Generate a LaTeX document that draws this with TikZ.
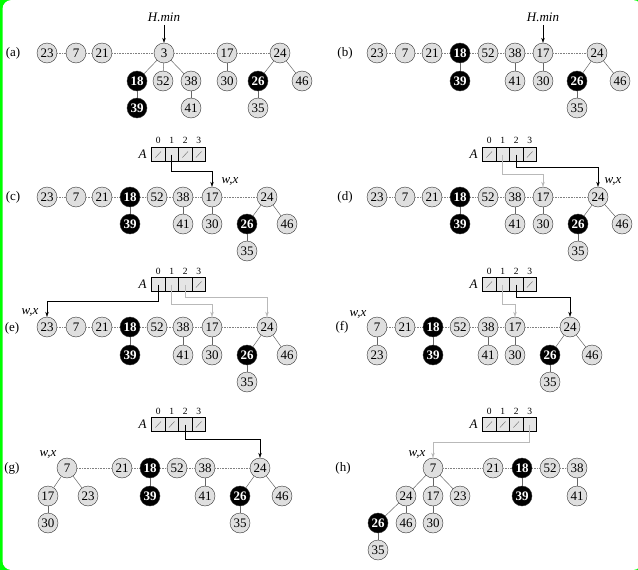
\documentclass[tikz,border=0pt]{standalone}
\usepackage{fontspec}
\setmainfont{Liberation Serif}
\usetikzlibrary{matrix,positioning,arrows.meta}

\begin{document}
\begin{tikzpicture}[x=1pt, y=-1pt, font=\fontsize{13}{13}\selectfont,
    hnode/.style={circle, draw=black!80, fill=gray!25, minimum size=20pt, inner sep=0pt},
    hmark/.style={hnode, fill=black, text=white, font=\fontsize{13}{13}\selectfont\bfseries},
    tree/.style={draw=black!60, line width=0.5pt},
    rootlink/.style={draw=gray, densely dotted, line width=0.6pt},
    ptr/.style={-{Stealth[length=5pt,width=3.5pt]}, line width=0.5pt, draw=black},
    gptr/.style={ptr, draw=gray!55},
    nilcell/.style={path picture={\draw[black!60] ([shift={(4pt,4pt)}]path picture bounding box.south west) -- ([shift={(-4pt,-4pt)}]path picture bounding box.north east);}},
    array/.style={matrix of nodes, anchor=south west, inner sep=0pt, nodes={draw, fill=gray!20, minimum width=13.5pt, minimum height=14pt, inner sep=0pt}, column sep=-\pgflinewidth, row sep=1pt, nodes in empty cells,
    row 1/.style={nodes={draw=none, fill=none, minimum height=11pt, font=\fontsize{9.5}{9.5}\selectfont}}
    }]

    \useasboundingbox (0,0) rectangle (638,570);
    \fill[green] (0,0) rectangle (638,570);
    \fill[white, rounded corners=9pt] (2.5,0) rectangle (642,570);

    % (a)
    \node (la) at (13,53) {(a)};
    \foreach \k/\x in {23/47,7/76,21/102,3/164,17/227,24/280}
      \node[hnode] (a\k) at (\x,53) {\k};
    \foreach \k/\x/\y in {52/163/81,38/191/81,30/227/81,46/302/81,41/191/108,35/258/108}
      \node[hnode] (a\k) at (\x,\y) {\k};
    \foreach \k/\x/\y in {18/137/81,26/258/81,39/137/108}
      \node[hmark] (a\k) at (\x,\y) {\k};
    \foreach \u/\v in {23/7,7/21,21/3,3/17,17/24}
      \draw[rootlink] (a\u) -- (a\v);
    \foreach \u/\v in {3/18,3/52,3/38,38/41,18/39,17/30,24/26,24/46,26/35}
      \draw[tree] (a\u) -- (a\v);
    \node (ahmin) at (164,17) {\itshape H.min};
    \draw[ptr] (ahmin) -- (a3);

    % (b)
    \node (lb) at (345,53) {(b)};
    \foreach \k/\x in {23/377,7/405,21/432,52/488,38/515,17/543,24/597}
      \node[hnode] (b\k) at (\x,53) {\k};
    \foreach \k/\x/\y in {41/515/81,30/543/81,46/620/81,35/577/108}
      \node[hnode] (b\k) at (\x,\y) {\k};
    \foreach \k/\x/\y in {18/460/53,39/460/81,26/577/81}
      \node[hmark] (b\k) at (\x,\y) {\k};
    \foreach \u/\v in {23/7,7/21,21/18,18/52,52/38,38/17,17/24}
      \draw[rootlink] (b\u) -- (b\v);
    \foreach \u/\v in {18/39,38/41,17/30,24/26,24/46,26/35}
      \draw[tree] (b\u) -- (b\v);
    \node (bhmin) at (543,17) {\itshape H.min};
    \draw[ptr] (bhmin) -- (b17);

    % (c)
    \node (lc) at (13,197) {(c)};
    \foreach \k/\x in {23/47,7/76,21/102,52/157,38/183,17/212,24/267}
      \node[hnode] (c\k) at (\x,197) {\k};
    \foreach \k/\x/\y in {41/183/224,30/212/224,46/287/224,35/247/251}
      \node[hnode] (c\k) at (\x,\y) {\k};
    \foreach \k/\x/\y in {18/130/197,39/130/224,26/247/224}
      \node[hmark] (c\k) at (\x,\y) {\k};
    \foreach \u/\v in {23/7,7/21,21/18,18/52,52/38,38/17,17/24}
      \draw[rootlink] (c\u) -- (c\v);
    \foreach \u/\v in {18/39,38/41,17/30,24/26,24/46,26/35}
      \draw[tree] (c\u) -- (c\v);
    \matrix[array] (Ac) at (151,162) {
    0 & 1 & 2 & 3\\
    |[nilcell]| & & |[nilcell]| & |[nilcell]|\\};
    \node[left=1pt of Ac-2-1] (Aclab) {\itshape A};
    \draw[ptr] (Ac-2-2.center) -- ++(0,17) -| (c17);
    \node (cwx) at (230,182) {\itshape w,x};

    % (d)
    \node (ld) at (345,197) {(d)};
    \foreach \k/\x in {23/377,7/405,21/432,52/488,38/515,17/543,24/598}
      \node[hnode] (d\k) at (\x,197) {\k};
    \foreach \k/\x/\y in {41/515/224,30/543/224,46/622/224,35/578/251}
      \node[hnode] (d\k) at (\x,\y) {\k};
    \foreach \k/\x/\y in {18/460/197,39/460/224,26/578/224}
      \node[hmark] (d\k) at (\x,\y) {\k};
    \foreach \u/\v in {23/7,7/21,21/18,18/52,52/38,38/17,17/24}
      \draw[rootlink] (d\u) -- (d\v);
    \foreach \u/\v in {18/39,38/41,17/30,24/26,24/46,26/35}
      \draw[tree] (d\u) -- (d\v);
    \matrix[array] (Ad) at (482,162) {
    0 & 1 & 2 & 3\\
    |[nilcell]| & & & |[nilcell]|\\};
    \node[left=1pt of Ad-2-1] (Adlab) {\itshape A};
    \draw[gptr] (Ad-2-2.center) -- ++(0,20) -| (d17);
    \draw[ptr] (Ad-2-3.center) -- ++(0,13) -| (d24);
    \node (dwx) at (613,182) {\itshape w,x};

    % (e)
    \node (le) at (12,328) {(e)};
    \foreach \k/\x in {23/47,7/76,21/102,52/157,38/183,17/212,24/267}
      \node[hnode] (e\k) at (\x,327) {\k};
    \foreach \k/\x/\y in {41/183/355,30/212/355,46/287/355,35/247/382}
      \node[hnode] (e\k) at (\x,\y) {\k};
    \foreach \k/\x/\y in {18/130/327,39/130/355,26/247/355}
      \node[hmark] (e\k) at (\x,\y) {\k};
    \foreach \u/\v in {23/7,7/21,21/18,18/52,52/38,38/17,17/24}
      \draw[rootlink] (e\u) -- (e\v);
    \foreach \u/\v in {18/39,38/41,17/30,24/26,24/46,26/35}
      \draw[tree] (e\u) -- (e\v);
    \matrix[array] (Ae) at (151,292) {
    0 & 1 & 2 & 3\\
    & & & |[nilcell]|\\};
    \node[left=1pt of Ae-2-1] (Aelab) {\itshape A};
    \draw[ptr] (Ae-2-1.center) -- ++(0,17) -| (e23);
    \draw[gptr] (Ae-2-2.center) -- ++(0,20) -| (e17);
    \draw[gptr] (Ae-2-3.center) -- ++(0,13) -| (e24);
    \node (ewx) at (30,313) {\itshape w,x};

    % (f)
    \node (lf) at (342,327) {(f)};
    \foreach \k/\x in {7/377,21/405,52/460,38/488,17/515,24/570}
      \node[hnode] (f\k) at (\x,327) {\k};
    \foreach \k/\x/\y in {23/377/355,41/488/355,30/515/355,46/592/355,35/550/382}
      \node[hnode] (f\k) at (\x,\y) {\k};
    \foreach \k/\x/\y in {18/433/327,39/433/355,26/550/355}
      \node[hmark] (f\k) at (\x,\y) {\k};
    \foreach \u/\v in {7/21,21/18,18/52,52/38,38/17,17/24}
      \draw[rootlink] (f\u) -- (f\v);
    \foreach \u/\v in {7/23,18/39,38/41,17/30,24/26,24/46,26/35}
      \draw[tree] (f\u) -- (f\v);
    \matrix[array] (Af) at (482,292) {
    0 & 1 & 2 & 3\\
    |[nilcell]| & & & |[nilcell]|\\};
    \node[left=1pt of Af-2-1] (Aflab) {\itshape A};
    \draw[gptr] (Af-2-2.center) -- ++(0,20) -| (f17);
    \draw[ptr] (Af-2-3.center) -- ++(0,13) -| (f24);
    \node (fwx) at (358,315) {\itshape w,x};

    % (g)
    \node (lg) at (12,468) {(g)};
    \foreach \k/\x in {7/67,21/122,52/177,38/205,24/260}
      \node[hnode] (g\k) at (\x,468) {\k};
    \foreach \k/\x/\y in {17/48/496,23/88/496,41/205/496,46/282/496,30/48/523,35/240/523}
      \node[hnode] (g\k) at (\x,\y) {\k};
    \foreach \k/\x/\y in {18/150/468,39/150/496,26/240/496}
      \node[hmark] (g\k) at (\x,\y) {\k};
    \foreach \u/\v in {7/21,21/18,18/52,52/38,38/24}
      \draw[rootlink] (g\u) -- (g\v);
    \foreach \u/\v in {7/17,7/23,17/30,18/39,38/41,24/26,24/46,26/35}
      \draw[tree] (g\u) -- (g\v);
    \matrix[array] (Ag) at (151,432) {
    0 & 1 & 2 & 3\\
    |[nilcell]| & |[nilcell]| & & |[nilcell]|\\};
    \node[left=1pt of Ag-2-1] (Aglab) {\itshape A};
    \draw[ptr] (Ag-2-3.center) -- ++(0,15) -| (g24);
    \node (gwx) at (48,455) {\itshape w,x};

    % (h)
    \node (lh) at (343,468) {(h)};
    \foreach \k/\x in {7/433,21/493,52/550,38/577}
      \node[hnode] (h\k) at (\x,468) {\k};
    \foreach \k/\x/\y in {24/406/496,17/433/496,23/460/496,41/577/496,46/406/523,30/433/523,35/378/550}
      \node[hnode] (h\k) at (\x,\y) {\k};
    \foreach \k/\x/\y in {18/522/468,39/522/496,26/378/523}
      \node[hmark] (h\k) at (\x,\y) {\k};
    \foreach \u/\v in {7/21,21/18,18/52,52/38}
      \draw[rootlink] (h\u) -- (h\v);
    \foreach \u/\v in {7/24,7/17,7/23,24/26,24/46,17/30,26/35,18/39,38/41}
      \draw[tree] (h\u) -- (h\v);
    \matrix[array] (Ah) at (482,432) {
    0 & 1 & 2 & 3\\
    |[nilcell]| & |[nilcell]| & |[nilcell]| & \\};
    \node[left=1pt of Ah-2-1] (Ahlab) {\itshape A};
    \draw[gptr] (Ah-2-4.center) -- ++(0,18) -| (h7);
    \node (hwx) at (417,455) {\itshape w,x};
    %
\end{tikzpicture}
\end{document}
